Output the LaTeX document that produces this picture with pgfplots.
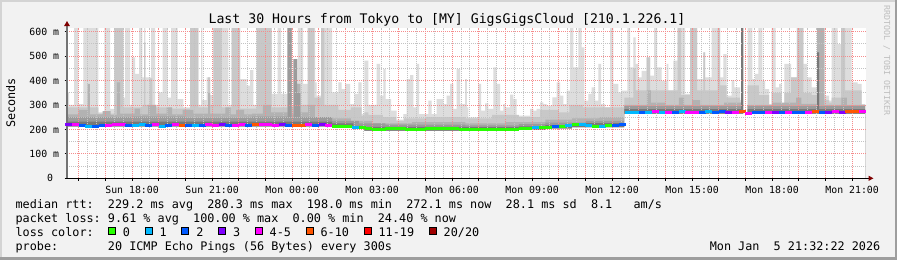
\documentclass[border=0pt]{standalone}
\usepackage{fontspec}
\setmainfont{DejaVu Sans Mono}
\usepackage{pgfplots}
\pgfplotsset{compat=1.18}
\usepackage{pgfplotstable}
\usetikzlibrary{arrows.meta}
\frenchspacing

\definecolor{bgc}{RGB}{242,242,242}
\definecolor{shA}{RGB}{212,212,212}
\definecolor{shB}{RGB}{158,158,158}
\definecolor{arrowc}{RGB}{127,0,0}
\definecolor{mgrid}{RGB}{245,140,140}
\definecolor{ngrid}{RGB}{195,195,195}
\definecolor{smA}{RGB}{221,221,221}
\definecolor{smB}{RGB}{200,200,200}
\definecolor{smC}{RGB}{178,178,178}
\definecolor{smD}{RGB}{155,155,155}
\definecolor{smE}{RGB}{120,120,120}
\definecolor{lc0}{RGB}{38,255,0}
\definecolor{lc1}{RGB}{0,184,255}
\definecolor{lc2}{RGB}{0,89,255}
\definecolor{lc3}{RGB}{127,0,255}
\definecolor{lc4}{RGB}{255,0,255}
\definecolor{lc6}{RGB}{255,85,0}
\definecolor{lc11}{RGB}{255,0,0}
\definecolor{lc20}{RGB}{160,0,0}
\definecolor{rrdc}{RGB}{190,190,190}

\newcommand\titlefont{\fontsize{13.2bp}{15bp}\selectfont}
\newcommand\legfont{\fontsize{11.8bp}{13bp}\selectfont}
\newcommand\tickfont{\fontsize{9.85bp}{11bp}\selectfont}
\newcommand\tinyfont{\fontsize{8.3bp}{9bp}\selectfont}

\pgfdeclareplotmark{seg}{\pgfpathrectangle{\pgfpoint{-3.5bp}{-1.5bp}}{\pgfpoint{7bp}{3bp}}\pgfusepath{fill}}

% smoke layer A (outermost, lightest)
\pgfplotstableread{
x y
15.50 352
15.635 300
15.823 614
15.985 304
16.173 614
16.735 270
16.96 614
17.173 284
17.335 614
17.673 330
17.735 614
17.923 300
17.985 495
18.11 427
18.26 614
18.385 413
18.448 614
18.498 413
18.71 614
18.86 300
18.985 352
19.148 614
19.335 330
19.46 614
19.71 324
19.923 290
20.173 614
20.485 300
20.585 614
20.635 320
20.798 413
20.923 340
21.048 614
21.61 300
21.735 614
22.048 406
22.298 379
22.423 443
22.548 300
22.673 614
23.235 345
23.46 614
23.585 345
23.835 614
23.985 300
24.06 488
24.185 386
24.22 614
24.41 386
24.598 614
24.86 393
24.923 338
25.085 614
25.498 352
25.735 393
25.86 365
25.985 386
26.173 304
26.335 345
26.485 393
26.61 263
26.71 481
26.86 300
27.173 468
27.298 338
27.423 447
27.51 324
27.71 277
27.923 240
28.173 263
28.298 406
28.423 422
28.548 290
28.673 468
28.76 263
29.11 318
29.235 263
29.423 324
29.673 304
29.798 338
29.923 386
30.048 284
30.173 447
30.298 304
30.485 406
30.55 290
30.61 249
30.985 386
31.085 277
31.235 307
31.36 284
31.548 454
31.673 386
31.798 277
31.923 304
32.01 290
32.173 342
32.298 324
32.423 256
32.923 284
33.048 277
33.173 284
33.298 311
33.423 304
33.548 297
33.76 331
33.923 393
34.048 338
34.173 304
34.298 359
34.423 614
34.548 454
34.735 614
34.86 536
34.96 318
35.11 345
35.235 372
35.36 318
35.485 468
35.585 304
35.735 290
35.923 614
36.048 386
36.235 352
36.36 359
36.573 614
36.673 454
36.798 577
36.885 468
36.985 413
37.11 440
37.298 495
37.423 420
37.573 614
37.685 454
37.86 399
38.048 468
38.11 359
38.298 481
38.46 614
38.735 345
38.923 614
39.185 406
39.423 515
39.485 413
39.735 614
40.048 413
40.173 508
40.298 338
40.485 402
40.585 372
40.798 320
40.835 614
40.91 0
41.085 614
41.26 406
41.36 427
41.485 614
41.635 399
41.735 365
41.885 304
41.985 614
42.135 372
42.26 386
42.36 304
42.46 468
42.71 413
42.923 614
43.173 468
43.298 413
43.485 372
43.685 614
43.96 338
44.135 318
44.235 614
44.46 549
44.585 614
44.985 393
45.21 386
45.36 304
45.485 0
45.6 0
}\tA

\pgfplotstableread{
x y
15.50 290
16.735 265
17.335 614
17.673 290
18.385 300
18.448 556
18.498 300
18.66 409
18.76 290
19.5 285
20.173 614
20.485 290
20.85 413
20.93 300
21.048 614
21.36 290
21.735 614
22.048 285
22.673 614
23.235 290
23.835 614
23.985 290
24.06 488
24.185 386
24.31 300
24.585 614
24.835 330
25.085 614
25.21 300
25.735 280
26.2 290
26.61 255
26.71 270
26.86 260
27.4 250
27.9 235
28.2 245
29.0 250
30.5 245
31.5 260
32.5 250
33.3 280
34.0 270
34.4 300
34.9 290
35.5 290
36.46 330
36.798 450
36.885 360
37.298 495
37.423 360
38.46 614
38.585 340
38.923 614
39.185 360
39.423 515
39.485 360
39.96 614
40.05 380
40.298 330
40.798 310
40.835 614
40.91 0
41.085 380
41.5 340
41.885 300
41.985 350
42.36 300
42.46 350
42.71 413
42.923 614
43.173 350
43.485 340
43.685 614
43.96 320
44.135 310
44.235 330
44.585 614
44.735 360
45.36 300
45.485 0
45.6 0
}\tB

\pgfplotstableread{
x y
15.5 262
16.0 280
16.335 386
16.42 262
16.9 275
17.2 260
17.43 393
17.55 265
18.1 285
18.3 262
18.6 300
18.9 265
19.3 290
19.5 262
19.9 280
20.3 265
20.85 350
20.93 265
21.5 290
21.7 262
21.9 280
22.2 262
22.5 265
22.9 300
23.2 270
23.835 614
23.985 262
24.06 488
24.185 386
24.31 270
24.6 300
24.85 250
25.5 245
26.2 235
27.0 225
28.5 230
30.5 225
32.0 230
33.5 240
34.5 245
35.5 250
36.46 300
37.3 360
37.45 310
38.0 300
38.5 330
38.7 300
39.0 320
39.3 300
40.2 310
40.835 614
40.91 0
41.085 300
42.0 310
42.9 330
43.1 305
43.685 614
43.96 300
44.6 330
44.8 300
45.485 0
45.6 0
}\tC

\pgfplotstableread{
x y
15.5 250
18.0 252
20.0 248
22.5 252
23.835 614
23.985 250
24.06 488
24.185 350
24.31 250
25.5 235
26.5 225
27.5 220
30.5 217
32.5 222
33.5 228
35.0 235
36.46 295
40.835 614
40.91 0
41.085 295
43.685 515
43.76 295
45.485 0
45.6 0
}\tD

\pgfplotstableread{
x y
15.5 232
25.5 225
26.3 215
26.7 210
30.5 209
32.5 212
33.5 218
35.0 226
36.46 283
40.835 614
40.91 0
41.085 283
43.685 515
43.76 283
45.485 0
45.6 0
}\tE

\pgfplotstableread{
x y
15.5 211
25.5 209
26.3 203
26.7 194
30.5 193
32.5 197
33.5 203
34.5 208
35.5 208
36.46 264
45.485 0
45.6 0
}\tLow

\pgfplotstableread{
x y c
15.625 219 c3
15.875 219 c4
16.125 218 c2
16.375 214 c1
16.625 214 c2
16.875 216 c2
17.125 218 c4
17.375 219 c4
17.625 220 c4
17.875 216 c2
18.125 217 c1
18.375 219 c1
18.625 217 c2
18.875 220 c4
19.125 214 c1
19.375 215 c2
19.625 219 c4
19.875 218 c6
20.125 216 c2
20.375 218 c1
20.625 217 c2
20.875 219 c4
21.125 218 c4
21.375 220 c3
21.625 217 c2
21.875 218 c4
22.125 219 c4
22.375 217 c2
22.625 219 c6
22.875 220 c4
23.125 219 c4
23.375 218 c4
23.625 219 c3
23.875 218 c2
24.125 216 c6
24.375 218 c6
24.625 219 c4
24.875 218 c2
25.125 219 c3
25.375 218 c4
25.625 214 c0
25.875 213 c0
26.125 212 c0
26.375 209 c1
26.625 207 c0
26.875 202 c0
27.125 200 c0
27.375 199 c0
27.625 204 c0
27.875 205 c0
28.125 203 c0
28.375 201 c0
28.625 199 c0
28.875 200 c0
29.125 203 c0
29.375 204 c0
29.625 202 c0
29.875 203 c0
30.125 203 c0
30.375 201 c0
30.625 200 c0
30.875 200 c0
31.125 199 c0
31.375 200 c0
31.625 201 c0
31.875 201 c0
32.125 200 c0
32.375 198 c0
32.625 203 c0
32.875 205 c0
33.125 206 c1
33.375 208 c0
33.625 209 c0
33.875 212 c2
34.125 213 c0
34.375 216 c1
34.625 219 c0
34.875 219 c1
35.125 216 c1
35.375 214 c0
35.625 213 c1
35.875 215 c0
36.125 218 c2
36.375 221 c2
36.625 271 c1
36.875 271 c1
37.125 270 c2
37.375 270 c1
37.625 272 c4
37.875 271 c1
38.125 271 c4
38.375 271 c2
38.625 272 c1
38.875 271 c4
39.125 271 c4
39.375 271 c2
39.625 272 c1
39.875 271 c2
40.125 272 c2
40.375 271 c3
40.625 271 c4
40.875 272 c6
41.125 267 c4
41.375 268 c2
41.625 270 c2
41.875 271 c4
42.125 271 c3
42.375 270 c2
42.625 271 c4
42.875 271 c2
43.125 271 c2
43.375 271 c4
43.625 272 c6
43.875 271 c2
44.125 271 c3
44.375 272 c4
44.625 271 c3
44.875 272 c6
45.125 273 c6
45.375 272 c4
}\tMed

\begin{document}
\begin{tikzpicture}
\useasboundingbox (0bp,0bp) rectangle (897bp,260bp);
\fill[bgc] (0bp,0bp) rectangle (897bp,260bp);
\fill[shA] (0bp,0bp) rectangle (2bp,260bp);
\fill[shA] (0bp,258bp) rectangle (897bp,260bp);
\fill[shB] (895bp,0bp) rectangle (897bp,260bp);
\fill[shB] (0bp,0bp) rectangle (897bp,2.5bp);

\begin{axis}[
  at={(67bp,81.7bp)}, anchor=south west,
  scale only axis, width=799bp, height=150.3bp,
  xmin=15.56, xmax=45.52, ymin=0, ymax=615,
  axis x line*=bottom, axis y line*=left,
  x axis line style={black, line width=1bp, -{Triangle[length=5bp,width=5bp,color=arrowc]}, shorten >=-7.5bp},
  y axis line style={black!55, line width=1.6bp, -{Triangle[length=5bp,width=5.5bp,color=arrowc]}, shorten >=-7bp},
  axis background/.style={fill=white},
  xtick={16,...,45},
  xticklabels={,,Sun 18:00,,,Sun 21:00,,,Mon 00:00,,,Mon 03:00,,,Mon 06:00,,,Mon 09:00,,,Mon 12:00,,,Mon 15:00,,,Mon 18:00,,,Mon 21:00},
  minor x tick num=2,
  ytick={0,100,...,600},
  yticklabels={0\ \ ,100 m,200 m,300 m,400 m,500 m,600 m},
  minor y tick num=1,
  grid=both,
  major grid style={mgrid, line width=0.9bp, dash pattern=on 1bp off 1bp},
  minor grid style={ngrid, line width=0.9bp, dash pattern=on 1bp off 1bp},
  tick align=outside, major tick length=2.5bp, minor tick length=0bp,
  tick style={black, line width=0.8bp},
  tick label style={font=\tickfont, text=black},
  xticklabel style={anchor=base, inner sep=0pt, yshift=-12.7bp},
  yticklabel style={anchor=east, inner sep=0pt, xshift=-5.2bp},
  axis on top,
  scatter/classes={
    c0={mark=seg,lc0}, c1={mark=seg,lc1}, c2={mark=seg,lc2}, c3={mark=seg,lc3},
    c4={mark=seg,lc4}, c6={mark=seg,lc6}, c11={mark=seg,lc11}, c20={mark=seg,lc20}},
]
\addplot[const plot, draw=none, fill=smA] table[x=x,y=y] {\tA} \closedcycle;
\addplot[const plot, draw=none, fill=smB] table[x=x,y=y] {\tB} \closedcycle;
\addplot[const plot, draw=none, fill=smC] table[x=x,y=y] {\tC} \closedcycle;
\addplot[const plot, draw=none, fill=smD] table[x=x,y=y] {\tD} \closedcycle;
\addplot[const plot, draw=none, fill=smE] table[x=x,y=y] {\tE} \closedcycle;
\addplot[const plot, draw=none, fill=white] table[x=x,y=y] {\tLow} \closedcycle;
\addplot[scatter, only marks, scatter src=explicit symbolic] table[x=x,y=y,meta=c] {\tMed};
\end{axis}

\node[anchor=base, inner sep=0pt, font=\titlefont] at (447bp,236.9bp) {Last 30 Hours from Tokyo to [MY] GigsGigsCloud [210.1.226.1]};
\node[rotate=90, anchor=base, inner sep=0pt, font=\legfont] at (15bp,157bp) {Seconds};
\node[rotate=-90, anchor=base west, inner sep=0pt, font=\tinyfont, text=rrdc] at (884bp,255bp) {RRDTOOL / TOBI OETIKER};

\node[anchor=base west, inner sep=0pt, font=\legfont] at (15.4bp,51.4bp) {median rtt:\ \ 229.2 ms avg\ \ 280.3 ms max\ \ 198.0 ms min\ \ 272.1 ms now\ \ 28.1 ms sd\ \ 8.1\ \ \ am/s};
\node[anchor=base west, inner sep=0pt, font=\legfont] at (15.4bp,37.6bp) {packet loss: 9.61 \% avg\ \ 100.00 \% max\ \ 0.00 \% min\ \ 24.40 \% now};
\node[anchor=base west, inner sep=0pt, font=\legfont] at (15.4bp,23.8bp) {loss color:};
\node[anchor=base west, inner sep=0pt, font=\legfont] at (15.4bp,10bp) {probe:\ \ \ \ \ \ \ 20 ICMP Echo Pings (56 Bytes) every 300s};
\node[anchor=base east, inner sep=0pt, font=\legfont] at (880.5bp,10bp) {Mon Jan\ \ 5 21:32:22 2026};

\foreach \p/\c/\t in {108.3/lc0/0, 145.0/lc1/1, 181.7/lc2/2, 218.4/lc3/3, 255.1/lc4/4-5, 306.0/lc6/6-10, 364.0/lc11/11-19, 429.1/lc20/20\slash 20}{
  \filldraw[fill=\c, draw=black, line width=0.8bp] (\p bp,25.8bp) rectangle ++(7bp,7bp);
  \node[anchor=base west, inner sep=0pt, font=\legfont] at ({\p bp+14.4bp},23.8bp) {\t};
}
\end{tikzpicture}
\end{document}
